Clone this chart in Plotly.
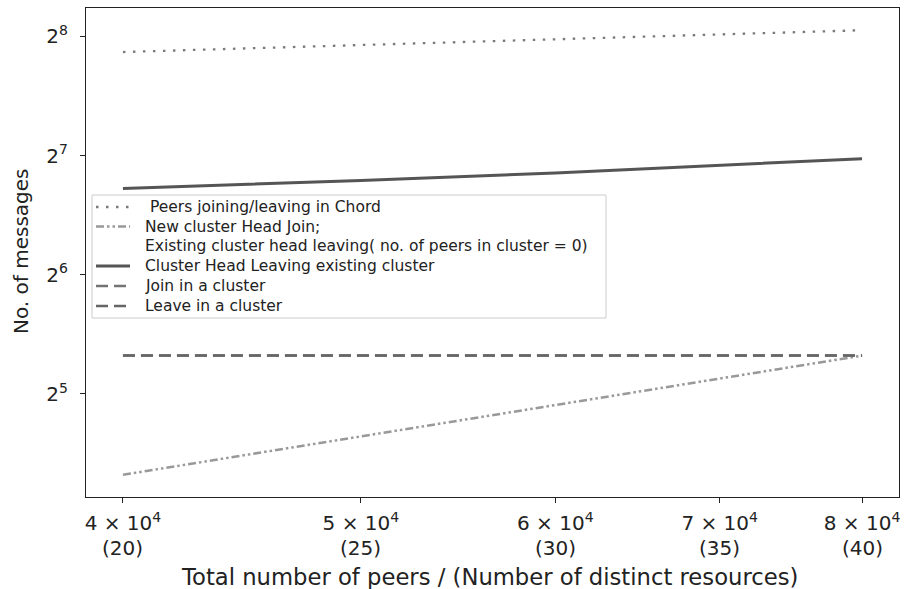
import numpy as np
import plotly.graph_objects as go

# Network sizes (total peers) and the matching number of distinct resources
peers = [40000, 50000, 60000, 70000, 80000]
resources = [20, 25, 30, 35, 40]

# Message counts per operation
chord_msgs = [233.7, 243.7, 251.9, 259.1, 265.3]
new_head_msgs = [20, 25, 30, 35, 40]
head_leave_msgs = [105.7, 110.7, 115.7, 120.7, 125.7]
join_msgs = [40, 40, 40, 40, 40]
leave_msgs = [40, 40, 40, 40, 40]

x_tick_text = ["4 × 10<sup>4</sup>", "5 × 10<sup>4</sup>", "6 × 10<sup>4</sup>",
               "7 × 10<sup>4</sup>", "8 × 10<sup>4</sup>"]
res_tick_text = ["(20)", "(25)", "(30)", "(35)", "(40)"]
y_tick_vals = [32, 64, 128, 256]
y_tick_text = ["2<sup>5</sup>", "2<sup>6</sup>", "2<sup>7</sup>", "2<sup>8</sup>"]

FONT = "DejaVu Sans"
TXT = "#222"
W, H = 904, 589
ML, MR, MT, MB = 86, 5, 8, 92
PW, PH = W - ML - MR, H - MT - MB


def px_x(px):
    return (px - ML) / PW


def px_y(py):
    return (H - MB - py) / PH


series = [
    (" Peers joining/leaving in Chord", chord_msgs,
     dict(color="#7a7a7a", width=2.3, dash="2.5px,7.5px")),
    ("New cluster Head Join;", new_head_msgs,
     dict(color="#999999", width=2.5, dash="8px,3px,2.5px,3px,2.5px,3px")),
    ("Existing cluster head leaving( no. of peers in cluster = 0)", None, None),
    ("Cluster Head Leaving existing cluster", head_leave_msgs,
     dict(color="#555555", width=3)),
    ("Join in a cluster", join_msgs,
     dict(color="#737373", width=2.5, dash="12px,6px")),
    ("Leave in a cluster", leave_msgs,
     dict(color="#666666", width=2.5, dash="12px,6px")),
]

fig = go.Figure()
for name, vals, style in series:
    if vals is not None:
        fig.add_trace(go.Scatter(x=peers, y=vals, mode="lines", name=name,
                                 line=style, showlegend=False))

# Legend box drawn in paper coordinates
fig.add_shape(type="rect", xref="paper", yref="paper",
              x0=px_x(92), x1=px_x(606), y0=px_y(318), y1=px_y(195),
              line=dict(color="#cccccc", width=1), fillcolor="rgba(255,255,255,0.85)",
              layer="above")
row_y = [207, 226.5, 246, 266, 286, 306]
for (name, vals, style), ry in zip(series, row_y):
    if style is not None:
        fig.add_shape(type="line", xref="paper", yref="paper",
                      x0=px_x(96), x1=px_x(130), y0=px_y(ry), y1=px_y(ry),
                      line=style, layer="above")
    fig.add_annotation(x=px_x(143), y=px_y(ry), xref="paper", yref="paper",
                       text=name, showarrow=False, xanchor="left", yanchor="middle",
                       font=dict(family=FONT, size=15.5, color=TXT))

# Second row of x labels: resource counts
for p, r in zip(peers, res_tick_text):
    fig.add_annotation(x=np.log10(p), y=px_y(548), xref="x", yref="paper",
                       text=r, showarrow=False, yanchor="middle",
                       font=dict(family=FONT, size=20, color=TXT))

# Axis titles
fig.add_annotation(x=px_x(489), y=px_y(577), xref="paper", yref="paper",
                   text="Total number of peers / (Number of distinct resources)",
                   showarrow=False, xanchor="center", yanchor="middle",
                   font=dict(family=FONT, size=22.7, color=TXT))
fig.add_annotation(x=px_x(21), y=px_y(251), xref="paper", yref="paper",
                   text="No. of messages", textangle=-90,
                   showarrow=False, xanchor="center", yanchor="middle",
                   font=dict(family=FONT, size=20, color=TXT))

# Axis ranges with 5% padding in log space
lx = np.log2(peers)
xr = [(lx[0] - 0.05) * np.log10(2), (lx[-1] + 0.05) * np.log10(2)]
all_y = np.log2(chord_msgs + new_head_msgs + head_leave_msgs + join_msgs)
ypad = 0.05 * (all_y.max() - all_y.min())
yr = [(all_y.min() - ypad) * np.log10(2), (all_y.max() + ypad) * np.log10(2)]

axis_common = dict(showline=True, linecolor="#222", linewidth=1.3, mirror=True,
                   ticks="outside", ticklen=5, tickwidth=1.1, tickcolor="#222",
                   showgrid=False, zeroline=False, automargin=False,
                   tickfont=dict(family=FONT, size=20, color=TXT))

fig.update_xaxes(type="log", range=xr, tickvals=peers, ticktext=x_tick_text,
                 ticklabelstandoff=3, **axis_common)
fig.update_yaxes(type="log", range=yr, tickvals=y_tick_vals, ticktext=y_tick_text,
                 ticklabelstandoff=8, **axis_common)

fig.update_layout(
    width=W, height=H,
    margin=dict(l=ML, r=MR, t=MT, b=MB),
    plot_bgcolor="white", paper_bgcolor="white",
    font=dict(family=FONT, size=15.5, color=TXT),
    showlegend=False,
)

fig.write_html("out.html")
